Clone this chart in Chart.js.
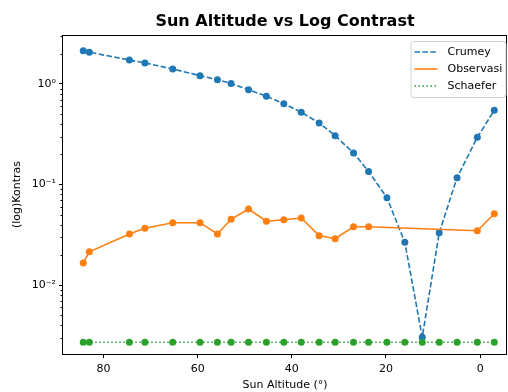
<!DOCTYPE html>
<html>
<head>
<meta charset="utf-8">
<script src="https://cdn.jsdelivr.net/npm/chart.js@4"></script>
<style>
  html, body { margin: 0; padding: 0; background: #fff; }
  canvas { display: block; }
</style>
</head>
<body>
<canvas id="altChart" width="508" height="392"></canvas>
<script>
// data
const altitude = [84.3, 83.0, 74.5, 71.2, 65.3, 59.5, 55.8, 52.9, 49.2, 45.4, 41.7, 38.0, 34.2, 30.8, 26.9, 23.7, 19.8, 16.0, 12.3, 8.7, 4.9, 0.6, -3.0];
const crumey = [2.14, 2.07, 1.73, 1.62, 1.41, 1.21, 1.10, 1.01, 0.878, 0.755, 0.637, 0.523, 0.409, 0.306, 0.206, 0.135, 0.0739, 0.0266, 0.00302, 0.0331, 0.117, 0.295, 0.547];
const observasi = [0.0166, 0.0214, 0.0322, 0.0367, 0.0417, 0.0417, 0.0322, 0.0451, 0.0570, 0.0431, 0.0446, 0.0464, 0.0310, 0.0289, 0.0380, 0.0380, null, null, null, null, null, 0.0347, 0.0512];
const schaefer = [0.0027, 0.0027, 0.0027, 0.0027, 0.0027, 0.0027, 0.0027, 0.0027, 0.0027, 0.0027, 0.0027, 0.0027, 0.0027, 0.0027, 0.0027, 0.0027, 0.0027, 0.0027, 0.0027, 0.0027, 0.0027, 0.0027, 0.0027];
const xTicks = [0, 20, 40, 60, 80];
const yTicks = [0.01, 0.1, 1];
const seriesNames = ['Crumey', 'Observasi', 'Schaefer'];
const seriesColors = ['#1f77b4', '#ff7f0e', '#2ca02c'];
const seriesDash = [[5.5, 2.4], [], [1.5, 2.5]];

const supers = { '-': '⁻', '0': '⁰', '1': '¹', '2': '²', '3': '³' };
function powLabel(v) {
  const e = Math.round(Math.log10(v));
  return '10' + String(e).split('').map(c => supers[c]).join('');
}

function points(vals) {
  return altitude.map((a, i) => ({ x: a, y: vals[i] }));
}

function makeSet(i, vals, order) {
  return {
    label: seriesNames[i],
    data: points(vals),
    borderColor: seriesColors[i],
    backgroundColor: seriesColors[i],
    borderWidth: 1.6,
    borderDash: seriesDash[i],
    pointRadius: 3.5,
    pointBorderWidth: 0,
    pointBackgroundColor: seriesColors[i],
    spanGaps: true,
    tension: 0,
    order: order
  };
}

// frame, minor log ticks, title and legend
const extras = {
  id: 'extras',
  afterDraw(chart) {
    const ctx = chart.ctx;
    const a = chart.chartArea;
    const ys = chart.scales.y;
    ctx.save();
    ctx.strokeStyle = '#000';
    ctx.lineWidth = 1;
    ctx.strokeRect(Math.round(a.left) - 0.5, Math.round(a.top) + 0.5, Math.round(a.right - a.left), Math.round(a.bottom - a.top));

    // minor ticks
    ctx.beginPath();
    for (let d = -3; d <= 0; d++) {
      for (let m = 2; m <= 9; m++) {
        const v = m * Math.pow(10, d);
        if (v < ys.min || v > ys.max) continue;
        const py = Math.round(ys.getPixelForValue(v)) + 0.5;
        ctx.moveTo(a.left - 0.5, py);
        ctx.lineTo(a.left - 2.5, py);
      }
    }
    ctx.stroke();

    // title
    ctx.fillStyle = '#000';
    ctx.font = 'bold 16px "DejaVu Sans"';
    ctx.textAlign = 'center';
    ctx.textBaseline = 'middle';
    ctx.fillText('Sun Altitude vs Log Contrast', (a.left + a.right) / 2, 22);

    // legend
    const bx = a.right - 96.5, by = a.top + 6, bw = 95, bh = 56;
    ctx.fillStyle = 'rgba(255,255,255,0.8)';
    ctx.strokeStyle = '#d0d0d0';
    ctx.beginPath();
    ctx.roundRect(bx + 0.5, by + 0.5, bw, bh, 2.5);
    ctx.fill();
    ctx.stroke();
    ctx.font = '11px "DejaVu Sans"';
    ctx.textAlign = 'left';
    seriesNames.forEach((name, i) => {
      const ry = by + 11 + i * 17;
      ctx.strokeStyle = seriesColors[i];
      ctx.lineWidth = 1.6;
      ctx.setLineDash(seriesDash[i]);
      ctx.beginPath();
      ctx.moveTo(bx + 4, ry);
      ctx.lineTo(bx + 27, ry);
      ctx.stroke();
      ctx.setLineDash([]);
      ctx.fillStyle = '#000';
      ctx.fillText(name, bx + 37, ry);
    });
    ctx.restore();
  }
};

Chart.defaults.font.family = '"DejaVu Sans"';
Chart.defaults.font.size = 11;
Chart.defaults.color = '#000';

new Chart(document.getElementById('altChart'), {
  type: 'line',
  data: {
    datasets: [
      makeSet(0, crumey, 3),
      makeSet(1, observasi, 2),
      makeSet(2, schaefer, 1)
    ]
  },
  options: {
    responsive: false,
    animation: false,
    layout: { autoPadding: false, padding: { left: 0, right: 1, top: 35, bottom: 0 } },
    plugins: {
      legend: { display: false },
      title: { display: false },
      tooltip: { enabled: false }
    },
    scales: {
      x: {
        type: 'linear',
        reverse: true,
        min: -5.7,
        max: 88.6,
        afterBuildTicks: s => { s.ticks = xTicks.map(v => ({ value: v })); },
        afterFit: s => { s.height = 38; s.paddingLeft = 0; s.paddingRight = 0; },
        grid: { drawOnChartArea: false, drawTicks: true, tickLength: 4, color: '#000' },
        border: { display: false },
        ticks: { padding: 5, maxRotation: 0 },
        title: { display: true, text: 'Sun Altitude (°)', padding: { top: 0, bottom: 0 } }
      },
      y: {
        type: 'logarithmic',
        min: 0.00206,
        max: 3.07,
        afterBuildTicks: s => { s.ticks = yTicks.map(v => ({ value: v })); },
        afterFit: s => { s.width = 63; s.paddingTop = 0; s.paddingBottom = 0; },
        grid: { drawOnChartArea: false, drawTicks: true, tickLength: 4, color: '#000' },
        border: { display: false },
        ticks: { padding: 3, callback: v => powLabel(v) },
        title: { display: true, text: '(log)Kontras', padding: { top: 11, bottom: 4 } }
      }
    }
  },
  plugins: [extras]
});
</script>
</body>
</html>
